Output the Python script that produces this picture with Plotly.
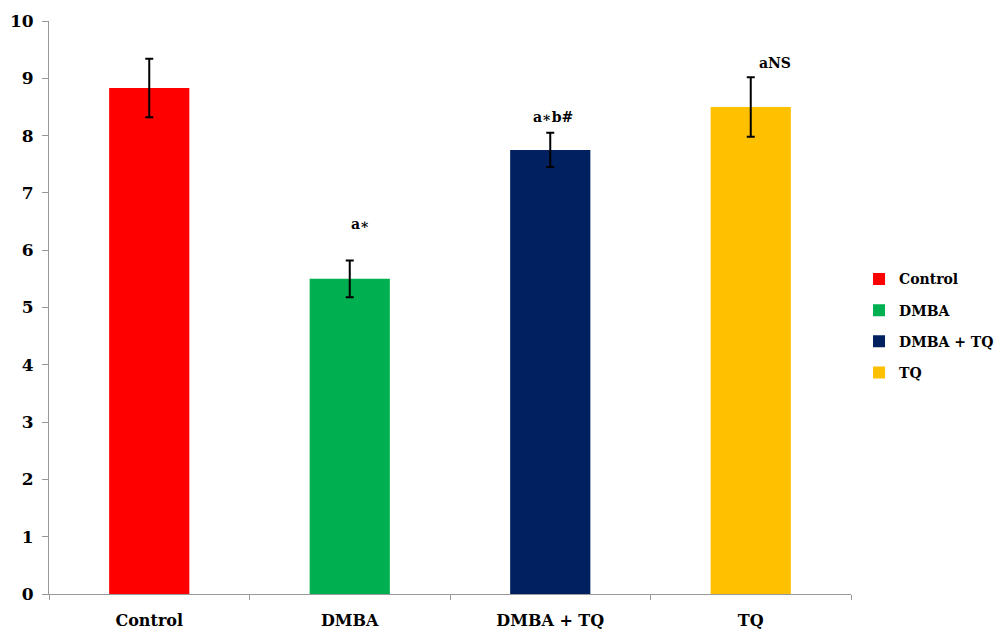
import plotly.graph_objects as go

categories = ["Control", "DMBA", "DMBA + TQ", "TQ"]
values = [8.83, 5.50, 7.75, 8.50]
errors = [0.51, 0.32, 0.30, 0.52]
colors = ["#FF0000", "#00B050", "#002060", "#FFC000"]
labels = ["", "a\u2217", "a\u2217b#", "aNS"]
label_y = [None, 6.46, 8.32, 9.27]
label_shift = [0, 11, 3, 24]

FONT = "DejaVu Serif"

fig = go.Figure()
for i, c in enumerate(categories):
    fig.add_trace(go.Bar(
        x=[c], y=[values[i]], name="<b>" + c + "</b>", width=0.4,
        marker=dict(color=colors[i], line=dict(width=0)),
        error_y=dict(type="data", array=[errors[i]], color="black", thickness=2, width=4),
        legendgroup=c,
    ))

for i, c in enumerate(categories):
    if labels[i]:
        fig.add_annotation(x=c, y=label_y[i], text="<b>" + labels[i] + "</b>",
                           showarrow=False, xshift=label_shift[i],
                           font=dict(family=FONT, size=14, color="black"))

fig.update_layout(
    width=1001, height=632,
    margin=dict(l=49, r=150, t=21, b=38, autoexpand=False),
    plot_bgcolor="white", paper_bgcolor="white",
    barmode="overlay",
    showlegend=True,
    legend=dict(x=1.01, y=0.468, xanchor="left", yanchor="middle",
                font=dict(family=FONT, size=14, color="black"),
                tracegroupgap=10, itemwidth=30,
                bgcolor="rgba(0,0,0,0)"),
    font=dict(family=FONT, color="black"),
)
fig.update_xaxes(
    type="category", categoryorder="array", categoryarray=categories,
    tickvals=categories, ticktext=["<b>%s</b>" % c for c in categories],
    showline=True, linecolor="#999999", linewidth=1,
    ticks="outside", tickson="boundaries", ticklen=5, tickcolor="#999999",
    tickfont=dict(family=FONT, size=16, color="black"),
    ticklabelstandoff=12,
    showgrid=False, zeroline=False, range=[-0.5, 3.5],
)
fig.update_yaxes(
    range=[0, 10], dtick=1, tickvals=list(range(0, 11)),
    ticktext=["<b>%d</b>" % v for v in range(0, 11)],
    showline=True, linecolor="#999999", linewidth=1,
    ticks="outside", ticklen=6, tickcolor="#999999",
    tickfont=dict(family=FONT, size=17, color="black"),
    ticklabelstandoff=5,
    showgrid=False, zeroline=False,
)

fig.write_html("out.html")
